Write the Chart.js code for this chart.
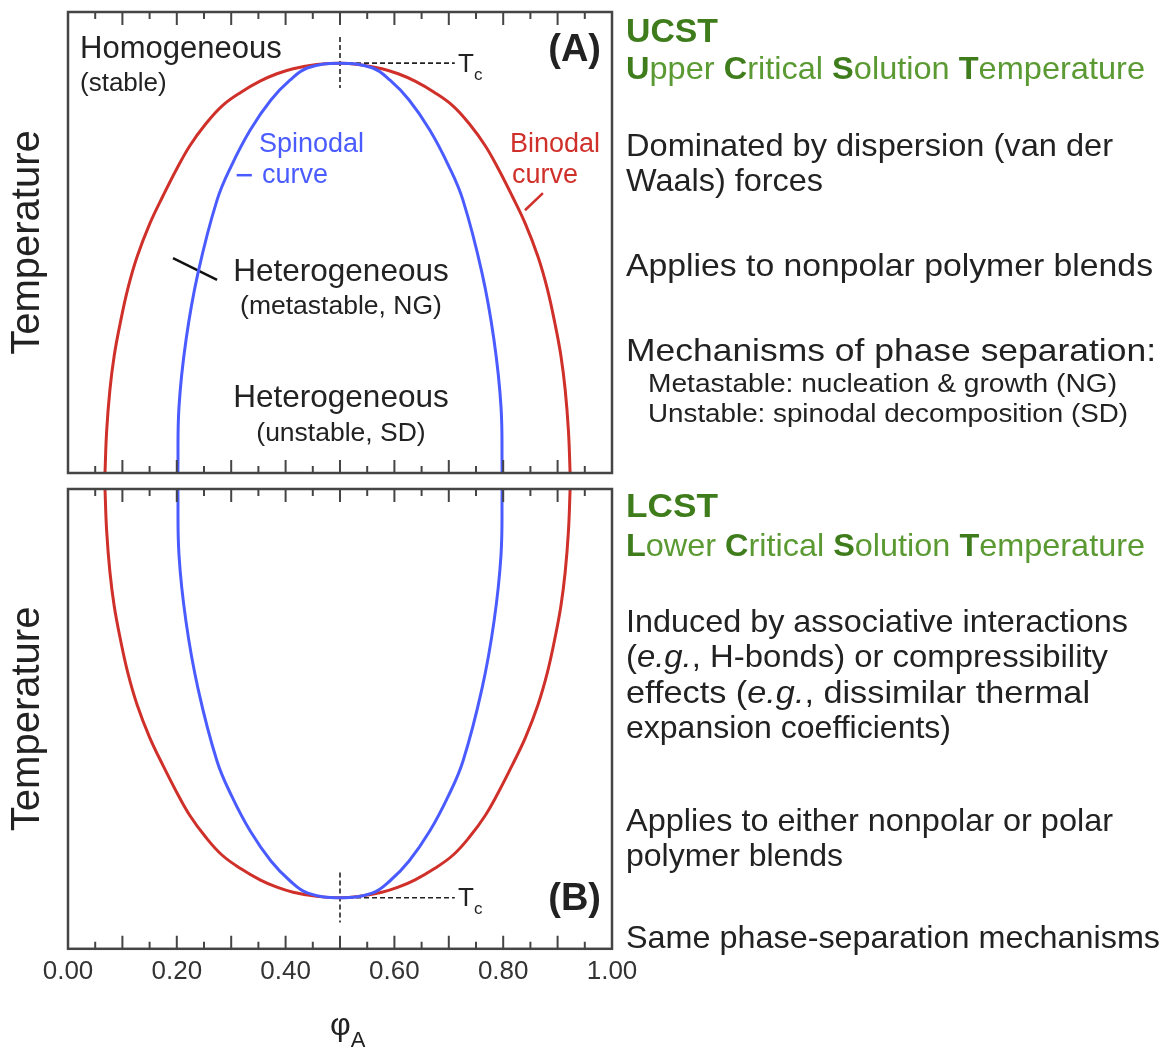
<!DOCTYPE html>
<html>
<head>
<meta charset="utf-8">
<title>UCST / LCST phase diagrams</title>
<script src="https://cdn.jsdelivr.net/npm/chart.js@4.4.0/dist/chart.umd.min.js"></script>
<style>
  body { margin: 0; background: #fff; width: 1171px; height: 1054px; position: relative; overflow: hidden;
         font-family: "Liberation Sans", Arial, sans-serif; color: #222; }
  canvas { position: absolute; left: 0; }
  .t { position: absolute; line-height: 1; white-space: nowrap; z-index: 2; }
  .g { color: #5b9a33; }
  .g b { color: #3e7c1c; }
  .c { transform: translateX(-50%); }
  .r { transform: translateX(-100%); }
  .fit { transform-origin: 0 0; }
</style>
</head>
<body>

<canvas id="chartA" width="660" height="480" style="top:0"></canvas>
<canvas id="chartB" width="660" height="574" style="top:480px"></canvas>

<!-- texte dans les graphes -->
<div class="t" style="left:80px;top:32px;font-size:31px">Homogeneous</div>
<div class="t" style="left:80px;top:69px;font-size:26px">(stable)</div>
<div class="t r" style="left:601px;top:29px;font-size:38px;font-weight:bold">(A)</div>
<div class="t" style="left:458px;top:50px;font-size:26px">T<span style="font-size:17px;position:relative;top:8px">c</span></div>
<div class="t" style="left:259px;top:130px;font-size:27px;color:#4a5cff">Spinodal</div>
<div class="t" style="left:262px;top:161px;font-size:27px;color:#4a5cff">curve</div>
<div class="t" style="left:510px;top:130px;font-size:27px;color:#d0302a">Binodal</div>
<div class="t" style="left:512px;top:161px;font-size:27px;color:#d0302a">curve</div>
<div class="t c" style="left:341px;top:255px;font-size:31.5px">Heterogeneous</div>
<div class="t c" style="left:341px;top:292px;font-size:26.5px">(metastable, NG)</div>
<div class="t c" style="left:341px;top:381px;font-size:31.5px">Heterogeneous</div>
<div class="t c" style="left:341px;top:419px;font-size:26.5px">(unstable, SD)</div>

<div class="t r" style="left:601px;top:878px;font-size:38px;font-weight:bold">(B)</div>
<div class="t" style="left:458px;top:884px;font-size:26px">T<span style="font-size:17px;position:relative;top:8px">c</span></div>

<div class="t" style="left:330px;top:1008px;font-size:32px">φ<span style="font-size:22px;position:relative;top:12px">A</span></div>

<!-- colonne de droite (data-w : largeur lue sur l'original) -->
<div class="t fit" data-w="92" style="left:626px;top:13px;font-size:34px;font-weight:bold;color:#3e7c1c">UCST</div>
<div class="t g fit" data-w="519" style="left:626px;top:52px;font-size:32px"><b>U</b>pper <b>C</b>ritical <b>S</b>olution <b>T</b>emperature</div>
<div class="t fit" data-w="487" style="left:626px;top:129px;font-size:32px">Dominated by dispersion (van der</div>
<div class="t fit" data-w="197" style="left:626px;top:164px;font-size:32px">Waals) forces</div>
<div class="t fit" data-w="527" style="left:626px;top:249px;font-size:32px">Applies to nonpolar polymer blends</div>
<div class="t fit" data-w="530" style="left:626px;top:334px;font-size:32px">Mechanisms of phase separation:</div>
<div class="t fit" data-w="469" style="left:648px;top:370px;font-size:26px">Metastable: nucleation &amp; growth (NG)</div>
<div class="t fit" data-w="480" style="left:648px;top:400px;font-size:26px">Unstable: spinodal decomposition (SD)</div>

<div class="t fit" data-w="92" style="left:626px;top:488px;font-size:34px;font-weight:bold;color:#3e7c1c">LCST</div>
<div class="t g fit" data-w="519" style="left:626px;top:529px;font-size:32px"><b>L</b>ower <b>C</b>ritical <b>S</b>olution <b>T</b>emperature</div>
<div class="t fit" data-w="502" style="left:626px;top:605px;font-size:32px">Induced by associative interactions</div>
<div class="t fit" data-w="482" style="left:626px;top:640px;font-size:32px">(<i>e.g.</i>, H-bonds) or compressibility</div>
<div class="t fit" data-w="464" style="left:626px;top:676px;font-size:32px">effects (<i>e.g.</i>, dissimilar thermal</div>
<div class="t fit" data-w="325" style="left:626px;top:711px;font-size:32px">expansion coefficients)</div>
<div class="t fit" data-w="487" style="left:626px;top:804px;font-size:32px">Applies to either nonpolar or polar</div>
<div class="t fit" data-w="217" style="left:626px;top:839px;font-size:32px">polymer blends</div>
<div class="t fit" data-w="534" style="left:626px;top:921px;font-size:32px">Same phase-separation mechanisms</div>

<script>
// ====================== //
//  Données lues (schéma) //
// ====================== //

// (A) UCST - courbe binodale
const ucstBinodalPhi = [0.068, 0.071, 0.077, 0.085, 0.096, 0.110, 0.127, 0.150, 0.175, 0.200, 0.224, 0.253, 0.283, 0.318, 0.353, 0.384, 0.414, 0.457,
                        0.500,
                        0.534, 0.577, 0.607, 0.638, 0.673, 0.708, 0.738, 0.767, 0.791, 0.816, 0.841, 0.864, 0.881, 0.895, 0.906, 0.914, 0.920, 0.923];
const ucstBinodalT   = [0.000, 0.090, 0.180, 0.255, 0.325, 0.400, 0.469, 0.540, 0.602, 0.660, 0.710, 0.757, 0.796, 0.826, 0.850, 0.866, 0.877, 0.886,
                        0.889,
                        0.886, 0.877, 0.866, 0.850, 0.826, 0.796, 0.757, 0.710, 0.660, 0.602, 0.540, 0.469, 0.400, 0.325, 0.255, 0.180, 0.090, 0.000];

// (A) UCST - courbe spinodale
const ucstSpinodalPhi = [0.202, 0.204, 0.217, 0.239, 0.274, 0.301, 0.335, 0.373, 0.408, 0.441,
                         0.500,
                         0.559, 0.592, 0.627, 0.665, 0.699, 0.726, 0.761, 0.783, 0.796, 0.798];
const ucstSpinodalT   = [0.000, 0.143, 0.289, 0.434, 0.592, 0.668, 0.744, 0.809, 0.852, 0.879,
                         0.889,
                         0.879, 0.852, 0.809, 0.744, 0.668, 0.592, 0.434, 0.289, 0.143, 0.000];

// (B) LCST - courbe binodale
const lcstBinodalPhi = [0.068, 0.071, 0.077, 0.085, 0.096, 0.110, 0.127, 0.150, 0.175, 0.200, 0.224, 0.253, 0.283, 0.318, 0.353, 0.384, 0.414, 0.457,
                        0.500,
                        0.534, 0.577, 0.607, 0.638, 0.673, 0.708, 0.738, 0.767, 0.791, 0.816, 0.841, 0.864, 0.881, 0.895, 0.906, 0.914, 0.920, 0.923];
const lcstBinodalT   = [1.000, 0.910, 0.820, 0.745, 0.675, 0.600, 0.531, 0.460, 0.398, 0.340, 0.290, 0.243, 0.204, 0.174, 0.150, 0.134, 0.123, 0.114,
                        0.111,
                        0.114, 0.123, 0.134, 0.150, 0.174, 0.204, 0.243, 0.290, 0.340, 0.398, 0.460, 0.531, 0.600, 0.675, 0.745, 0.820, 0.910, 1.000];

// (B) LCST - courbe spinodale
const lcstSpinodalPhi = [0.202, 0.204, 0.217, 0.239, 0.274, 0.301, 0.335, 0.373, 0.408, 0.441,
                         0.500,
                         0.559, 0.592, 0.627, 0.665, 0.699, 0.726, 0.761, 0.783, 0.796, 0.798];
const lcstSpinodalT   = [1.000, 0.857, 0.711, 0.566, 0.408, 0.332, 0.256, 0.191, 0.148, 0.121,
                         0.111,
                         0.121, 0.148, 0.191, 0.256, 0.332, 0.408, 0.566, 0.711, 0.857, 1.000];

// point critique (Tc) et repères pointillés
const critPhi = 0.5;
const ucstTc = 0.889;
const lcstTc = 0.111;
const tcLineEnd = 0.711;

// petits traits de renvoi (A)
const leaderSpinodal = [[0.310, 0.646], [0.338, 0.646]];
const leaderBinodal  = [[0.840, 0.570], [0.873, 0.607]];
const leaderHetero   = [[0.193, 0.466], [0.274, 0.419]];

// axe des x
const xTickLabels = [0.00, 0.20, 0.40, 0.60, 0.80, 1.00];
const xMinorTicks = [0.05, 0.10, 0.15, 0.20, 0.25, 0.30, 0.35, 0.40, 0.45, 0.50,
                     0.55, 0.60, 0.65, 0.70, 0.75, 0.80, 0.85, 0.90, 0.95];

const RED = "#d0302a";
const BLUE = "#4a5cff";
const FONT = "Liberation Sans";

const toPts = (xs, ys) => xs.map((x, i) => ({ x: x, y: ys[i] }));
const pairPts = pairs => pairs.map(p => ({ x: p[0], y: p[1] }));

// ========================= //
//  Cadre + graduations      //
// ========================= //
const framePlugin = {
    id: "frame",
    afterDatasetsDraw(chart) {
        const { ctx, chartArea: a } = chart;
        const x = chart.scales.x;
        ctx.save();
        ctx.strokeStyle = "#454545";
        ctx.lineWidth = 2;
        xMinorTicks.forEach((v, i) => {
            const px = x.getPixelForValue(v);
            const len = (i % 2 === 1) ? 13 : 7;
            ctx.beginPath();
            ctx.moveTo(px, a.top); ctx.lineTo(px, a.top + len);
            ctx.moveTo(px, a.bottom); ctx.lineTo(px, a.bottom - len);
            ctx.stroke();
        });
        ctx.lineWidth = 2.5;
        ctx.strokeRect(a.left, a.top, a.right - a.left, a.bottom - a.top);
        ctx.restore();
    }
};

function curve(data, color, order) {
    return {
        data: data,
        borderColor: color,
        borderWidth: 3,
        pointRadius: 0,
        tension: 0.4,
        order: order
    };
}

function dashed(data) {
    return {
        data: data,
        borderColor: "#222",
        borderWidth: 1.6,
        borderDash: [5, 3],
        pointRadius: 0,
        tension: 0,
        order: 3
    };
}

function plain(data, color) {
    return {
        data: data,
        borderColor: color,
        borderWidth: 2.5,
        pointRadius: 0,
        tension: 0,
        order: 4
    };
}

function yAxis() {
    return {
        type: "linear",
        min: 0,
        max: 1,
        ticks: { display: false },
        grid: { display: false, drawTicks: false },
        border: { display: false },
        title: {
            display: true,
            text: "Temperature",
            color: "#222",
            font: { family: FONT, size: 40 },
            padding: { top: 4, bottom: 16 }
        }
    };
}

Chart.defaults.font.family = FONT;

// ========================= //
//  (A) UCST                 //
// ========================= //
new Chart(document.getElementById("chartA"), {
    type: "line",
    data: {
        datasets: [
            curve(toPts(ucstSpinodalPhi, ucstSpinodalT), BLUE, 0),
            curve(toPts(ucstBinodalPhi, ucstBinodalT), RED, 1),
            dashed([{ x: critPhi, y: 0.946 }, { x: critPhi, y: 0.835 }]),
            dashed([{ x: critPhi, y: ucstTc }, { x: tcLineEnd, y: ucstTc }]),
            plain(pairPts(leaderSpinodal), BLUE),
            plain(pairPts(leaderBinodal), RED),
            plain(pairPts(leaderHetero), "#111")
        ]
    },
    options: {
        responsive: false,
        animation: false,
        layout: { padding: { left: 0, top: 12, right: 48, bottom: 7 } },
        plugins: { legend: { display: false }, tooltip: { enabled: false } },
        scales: {
            x: { type: "linear", min: 0, max: 1, display: false },
            y: yAxis()
        }
    },
    plugins: [framePlugin]
});

// ========================= //
//  (B) LCST                 //
// ========================= //
new Chart(document.getElementById("chartB"), {
    type: "line",
    data: {
        datasets: [
            curve(toPts(lcstSpinodalPhi, lcstSpinodalT), BLUE, 0),
            curve(toPts(lcstBinodalPhi, lcstBinodalT), RED, 1),
            dashed([{ x: critPhi, y: 0.166 }, { x: critPhi, y: 0.057 }]),
            dashed([{ x: critPhi, y: lcstTc }, { x: tcLineEnd, y: lcstTc }])
        ]
    },
    options: {
        responsive: false,
        animation: false,
        layout: { padding: { left: 0, top: 9, right: 48, bottom: 60 } },
        plugins: { legend: { display: false }, tooltip: { enabled: false } },
        scales: {
            x: {
                type: "linear",
                min: 0,
                max: 1,
                afterBuildTicks: axis => { axis.ticks = xTickLabels.map(v => ({ value: v })); },
                ticks: {
                    autoSkip: false,
                    maxRotation: 0,
                    padding: 7,
                    color: "#333",
                    font: { family: FONT, size: 26 },
                    callback: v => Number(v).toFixed(2)
                },
                grid: { display: false, drawTicks: false },
                border: { display: false }
            },
            y: yAxis()
        }
    },
    plugins: [framePlugin]
});

// largeur des lignes de texte ajustée sur l'original
document.querySelectorAll(".fit").forEach(el => {
    const w = el.getBoundingClientRect().width;
    const target = Number(el.dataset.w);
    if (w > 0 && target > 0) el.style.transform = `scaleX(${(target / w).toFixed(4)})`;
});
</script>
</body>
</html>
